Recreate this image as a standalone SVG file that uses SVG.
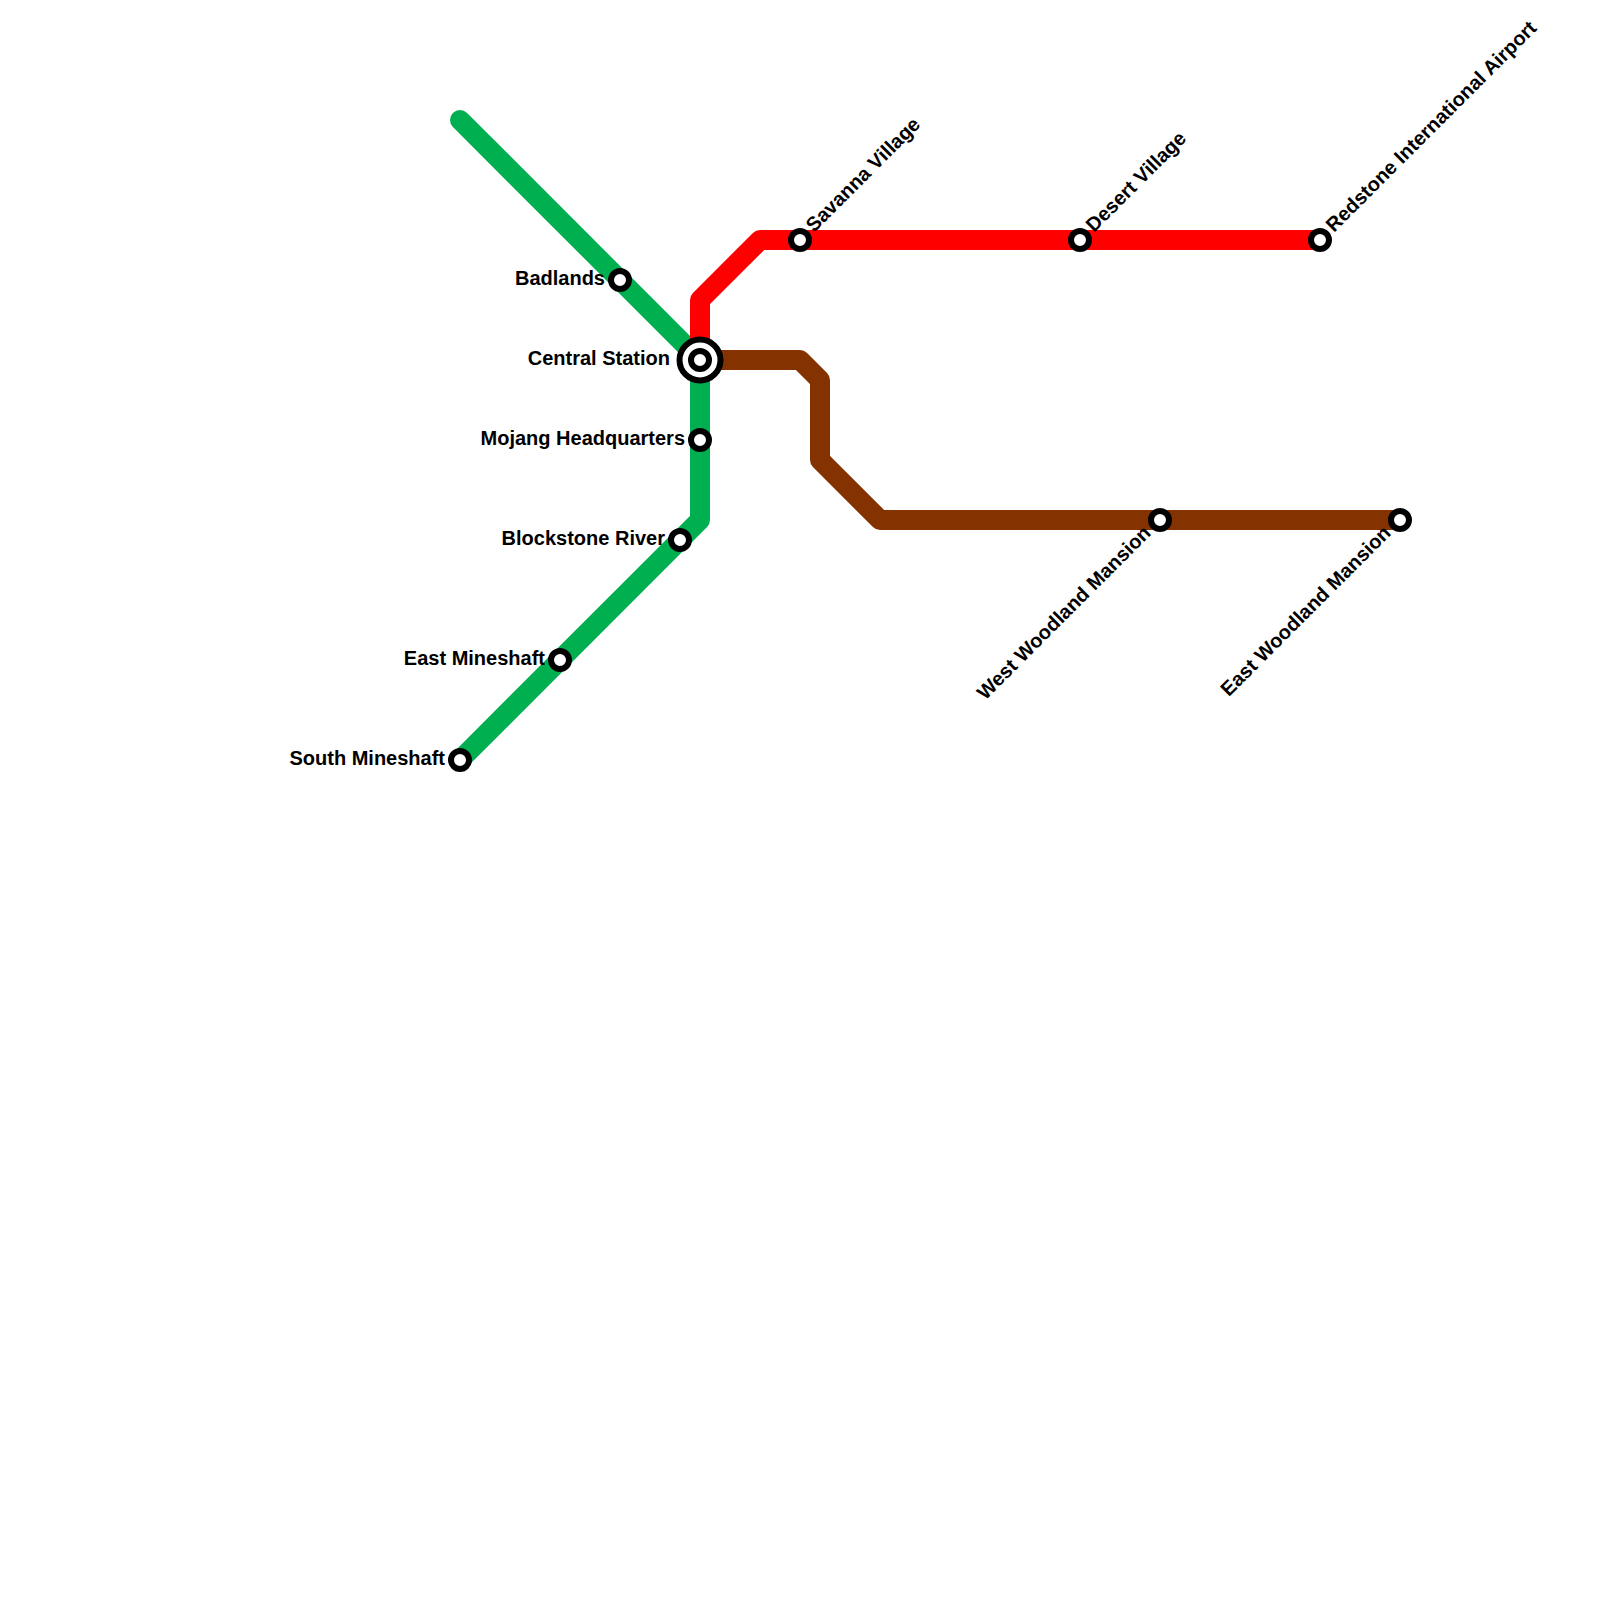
<svg xmlns="http://www.w3.org/2000/svg" width="1600" height="1600" viewBox="0 0 1600 1600">
<style>
.line{fill:none;stroke-width:20;stroke-linecap:round;stroke-linejoin:round}
.st{fill:#fff;stroke:#000;stroke-width:6}
text{font-family:"Liberation Sans",Arial,sans-serif;font-weight:700;font-size:20px;fill:#000}
.e{text-anchor:end}
</style>
<rect width="1600" height="1600" fill="#fff"/>
<g id="connectors">
<path id="line-green" class="line" stroke="#00b050" d="M460 120L700 360V520L460 760"/>
<path id="line-red" class="line" stroke="#ff0000" d="M700 360V300L760 240H1320"/>
<path id="line-brown" class="line" stroke="#833200" d="M700 360H800L820 380V460L880 520H1400"/>
</g>
<g id="central"><circle class="st" cx="700" cy="360" r="20.5"/><circle class="st" cx="700" cy="360" r="9"/><text class="e" x="670" y="365">Central Station</text></g>
<g id="badlands"><circle class="st" cx="620" cy="280" r="9"/><text class="e" x="605" y="285">Badlands</text></g>
<g id="mojang"><circle class="st" cx="700" cy="440" r="9"/><text class="e" x="685" y="445">Mojang Headquarters</text></g>
<g id="blockstone"><circle class="st" cx="680" cy="540" r="9"/><text class="e" x="665" y="545">Blockstone River</text></g>
<g id="east-mineshaft"><circle class="st" cx="560" cy="660" r="9"/><text class="e" x="545" y="665">East Mineshaft</text></g>
<g id="south-mineshaft"><circle class="st" cx="460" cy="760" r="9"/><text class="e" x="445" y="765">South Mineshaft</text></g>
<g id="savanna"><circle class="st" cx="800" cy="240" r="9"/><text transform="translate(814 233) rotate(-45)">Savanna Village</text></g>
<g id="desert"><circle class="st" cx="1080" cy="240" r="9"/><text transform="translate(1094 233) rotate(-45)">Desert Village</text></g>
<g id="redstone"><circle class="st" cx="1320" cy="240" r="9"/><text transform="translate(1334 233) rotate(-45)">Redstone International Airport</text></g>
<g id="west-woodland"><circle class="st" cx="1160" cy="520" r="9"/><text class="e" transform="translate(1152 534) rotate(-45)">West Woodland Mansion</text></g>
<g id="east-woodland"><circle class="st" cx="1400" cy="520" r="9"/><text class="e" transform="translate(1392 534) rotate(-45)">East Woodland Mansion</text></g>
</svg>
